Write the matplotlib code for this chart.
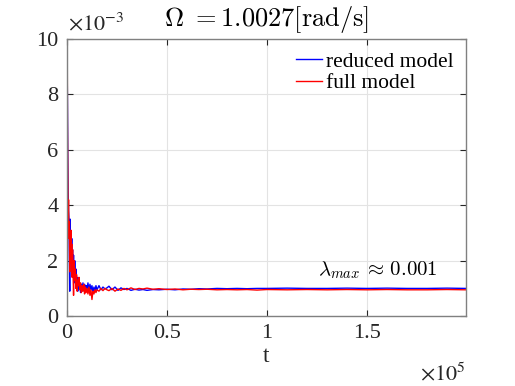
import matplotlib
matplotlib.use("Agg")
import matplotlib.pyplot as plt

plt.rcParams['font.family'] = ['Liberation Serif', 'DejaVu Serif']
plt.rcParams['mathtext.fontset'] = 'stix'

# time samples
t = [0, 100, 250, 400, 600, 800, 1000, 1200, 1400, 1600, 1800, 2000, 2200, 2400,
     2600, 2800, 3000, 3300, 3600, 3900, 4200, 4500, 4800, 5100, 5400, 5700, 6000,
     6400, 6800, 7200, 7600, 8000, 8400, 8800, 9200, 9600, 10000, 10500, 11000,
     11500, 12000, 12500, 13000, 13500, 14000, 14500, 15000, 16000, 17000, 18000,
     19000, 20000,
     21000, 22500, 24000, 25500, 27000, 28500, 30000, 32000, 34000, 36000, 38000,
     40000, 43000, 46000, 50000, 54000, 58000, 62000, 66000, 70000, 75000, 80000,
     85000, 90000, 95000, 100000, 110000, 120000, 130000, 140000, 150000, 160000,
     170000, 180000, 190000, 199500]

# values in units of 1e-3
reduced = [8.5, 9.0, 7.8, 6.0, 4.5, 3.8, 3.5, 2.0, 0.9, 3.5, 2.5, 3.0, 2.2, 2.8,
           1.8, 2.4, 1.5, 2.2, 1.2, 2.0, 1.3, 1.7, 1.0, 1.4, 0.9, 1.25, 1.0,
           1.2, 0.85, 1.15, 0.9, 1.2, 0.95, 1.15, 0.85, 1.1, 0.95, 1.2, 0.9,
           1.15, 0.95, 1.1, 0.85, 1.05, 0.9, 1.1, 0.95, 1.1, 0.95, 1.05,
           0.98, 1.02,
           1.08, 0.95, 1.05, 0.93, 1.02, 0.96, 1.0, 0.93, 0.97, 0.94, 0.96,
           0.93, 0.96, 0.95, 0.97, 0.95, 0.98, 0.97, 0.99, 0.98, 1.0, 0.99,
           1.0, 0.99, 1.0, 1.0, 1.01, 1.0, 1.0, 1.01, 1.0, 1.01,
           1.0, 1.0, 1.01, 1.0]

full = [0.0, 11.0, 7.0, 5.5, 3.6, 4.2, 2.8, 3.4, 1.6, 2.9, 2.2, 3.1, 1.9, 2.6,
        1.4, 2.4, 1.7, 0.75, 2.0, 1.3, 1.7, 1.0, 1.5, 0.9, 1.3, 1.1, 1.4,
        0.95, 1.2, 0.85, 1.1, 0.9, 1.15, 0.8, 1.05, 0.85, 1.0, 0.8, 1.05,
        0.75, 0.95, 0.6, 0.9, 0.8, 0.95, 0.85, 0.95, 0.9, 1.0, 0.92,
        1.0, 0.95,
        0.92, 1.0, 0.9, 0.98, 0.93, 1.0, 0.95, 1.02, 0.96, 1.0, 0.98,
        1.01, 0.97, 0.99, 0.96, 0.98, 0.95, 0.97, 0.96, 0.97, 0.95, 0.96,
        0.95, 0.96, 0.94, 0.96, 0.95, 0.96, 0.95, 0.96, 0.95, 0.96,
        0.95, 0.95, 0.96, 0.95]

xticks = [0, 0.5, 1, 1.5]
xticklabels = ['0', '0.5', '1', '1.5']
yticks = [0, 2, 4, 6, 8, 10]
yticklabels = ['0', '2', '4', '6', '8', '10']

fig = plt.figure(figsize=(5.15, 3.86), dpi=100)
ax = fig.add_axes([0.130, 0.181, 0.775, 0.718])

ts = [v / 1e5 for v in t]
ax.plot(ts, reduced, color=(0, 0, 1), lw=1.0, label='reduced model')
ax.plot(ts, full, color=(1, 0, 0), lw=1.0, label='full model')

ax.set_xlim(0, 1.995)
ax.set_ylim(0, 10)
ax.set_xticks(xticks)
ax.set_xticklabels(xticklabels)
ax.set_yticks(yticks)
ax.set_yticklabels(yticklabels)
ax.grid(True, color='#e3e3e3', lw=0.8)
ax.set_axisbelow(True)
for s in ax.spines.values():
    s.set_color('#808080')
    s.set_linewidth(1.0)
ax.tick_params(direction='in', length=4, width=0.8, color='#262626',
               labelsize=16, labelcolor='#262626', top=True, right=True, pad=6)

ax.set_title(r'$\Omega\ {=}1.0027[\mathrm{rad/s}]$', fontsize=19,
             color='#000000', pad=9, math_fontfamily='cm')
ax.set_xlabel('t', fontsize=17, color='#262626', labelpad=2)

ax.text(0.002, 1.015, r'$\times10^{-3}$', transform=ax.transAxes, fontsize=16,
        color='#262626', ha='left', va='bottom')
ax.text(1.0, -0.232, r'$\times10^{5}$', transform=ax.transAxes, fontsize=16,
        color='#262626', ha='right', va='baseline')

ax.text(0.930, 0.148, r'$\lambda_{max}\,\approx\,0.001$', transform=ax.transAxes,
        fontsize=15, color='black', ha='right', va='baseline',
        math_fontfamily='cm')

leg = ax.legend(loc='upper right', frameon=False, fontsize=15.5,
                handlelength=1.2, handletextpad=0.15, labelspacing=0.05,
                borderaxespad=0.2)

fig.savefig('out.png', dpi=100)
